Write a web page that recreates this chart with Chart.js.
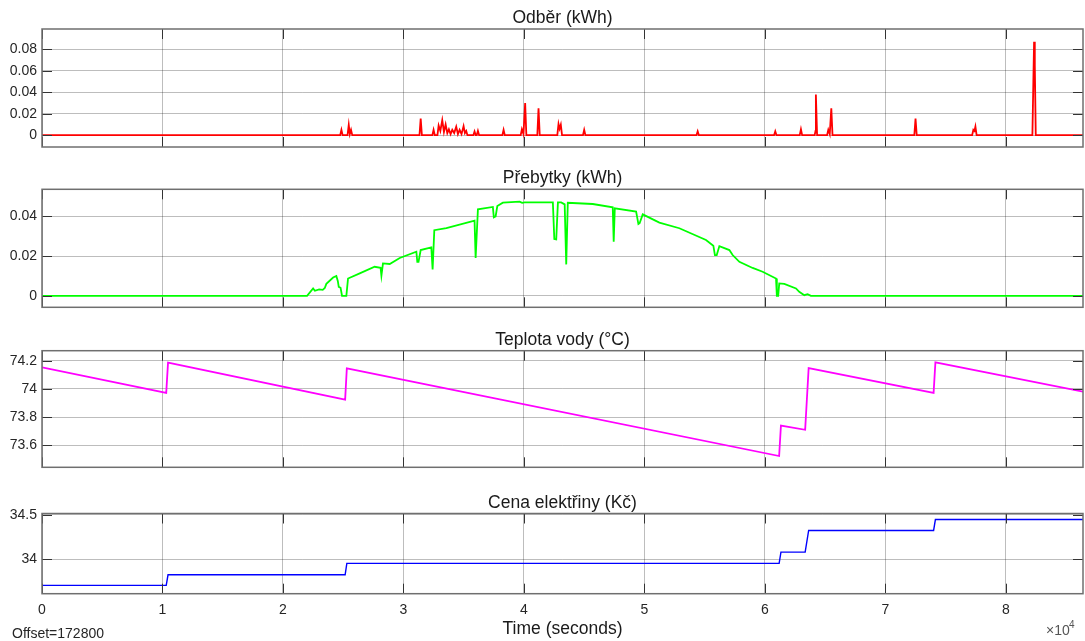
<!DOCTYPE html>
<html><head><meta charset="utf-8">
<script src="https://cdn.jsdelivr.net/npm/chart.js@4/dist/chart.umd.min.js"></script>
<style>
html,body{margin:0;padding:0;background:#fff;width:1085px;height:641px;overflow:hidden;}
canvas{position:absolute;left:0;}
</style></head><body>
<canvas id="c1" width="1085" height="155" style="top:0px"></canvas>
<canvas id="c2" width="1085" height="155" style="top:160px"></canvas>
<canvas id="c3" width="1085" height="155" style="top:320px"></canvas>
<canvas id="c4" width="1085" height="161" style="top:480px"></canvas>
<script>
// ---------- data ----------
const titles = ["Odběr (kWh)", "Přebytky (kWh)", "Teplota vody (°C)", "Cena elektřiny (Kč)"];
const xLabel = "Time (seconds)";
const offsetText = "Offset=172800";
const xTicks = [0, 10000, 20000, 30000, 40000, 50000, 60000, 70000, 80000];
const xTickLabels = ["0", "1", "2", "3", "4", "5", "6", "7", "8"];

const yTicksOdber = [0, 0.02, 0.04, 0.06, 0.08];
const yTicksPrebytky = [0, 0.02, 0.04];
const yTicksTeplota = [73.6, 73.8, 74, 74.2];
const yTicksCena = [34, 34.5];

const odberT = [0,
 24750, 24850, 24950,
 25360, 25460, 25550, 25650, 25750,
 31330, 31430, 31530,
 32400, 32500, 32600,
 32820, 32920, 33060, 33220, 33360, 33500, 33640, 33770, 33910, 34050, 34210, 34380, 34520, 34660, 34820, 34990, 35100, 35210, 35310,
 35800, 35900, 36000, 36080, 36180, 36280,
 38210, 38310, 38410,
 39730, 39830, 39960, 40100, 40200,
 41110, 41210, 41310,
 42770, 42870, 42960, 43060, 43160,
 44900, 45000, 45100,
 54320, 54420, 54520,
 60760, 60860, 60960,
 62890, 62990, 63090,
 64130, 64200, 64230, 64330,
 65160, 65260, 65380, 65510, 65610,
 72400, 72500, 72600,
 77200, 77300, 77390, 77470, 77570,
 82200, 82280, 82340, 82400, 82480,
 86400];
const odberV = [0,
 0, 0.005, 0,
 0, 0.0095, 0.001, 0.005, 0,
 0, 0.0155, 0,
 0, 0.005, 0,
 0, 0.009, 0.004, 0.014, 0.003, 0.010, 0.002, 0.0055, 0.001, 0.005, 0.002, 0.008, 0.001, 0.005, 0.001, 0.0085, 0.002, 0.004, 0,
 0, 0.0035, 0, 0, 0.004, 0,
 0, 0.005, 0,
 0, 0.0055, 0.001, 0.030, 0,
 0, 0.025, 0,
 0, 0.0105, 0.006, 0.0098, 0,
 0, 0.005, 0,
 0, 0.0037, 0,
 0, 0.0037, 0,
 0, 0.0055, 0,
 0, 0.004, 0.038, 0,
 0, 0.005, 0.001, 0.025, 0,
 0, 0.0155, 0,
 0, 0.005, 0.004, 0.008, 0,
 0, 0.05, 0.087, 0.065, 0,
 0];

const prebytkyT = [0, 22000, 22500, 22650, 23000, 23300, 23470, 23600, 24160, 24430, 24550, 24630, 24780, 24900, 25260, 25400,
 26370, 27610, 28100, 28170, 28300, 28860, 29690, 31070, 31150, 31250, 31430, 32310, 32420, 32560, 33560,
 35900, 35990, 36180, 37420, 37500, 37650, 37790, 38250, 39640, 39850, 40050, 42400, 42520, 42680, 42820,
 43090, 43380, 43510, 43640, 45710, 47370, 47450, 47540, 49310, 49500, 49600, 49860, 51240, 52900, 55110,
 55720, 55850, 56000, 56220, 57050, 57320, 57880, 58980, 59810, 60920, 60990, 61100, 61190, 61610, 62580,
 62850, 63270, 63540, 63820, 86400];
const prebytkyV = [0, 0, 0.0037, 0.0025, 0.0032, 0.003, 0.0039, 0.006, 0.0092, 0.010, 0.0075, 0.0045, 0.004, 0, 0, 0.0087,
 0.0113, 0.0146, 0.0141, 0.0101, 0.0163, 0.016, 0.019, 0.0222, 0.0171, 0.0171, 0.023, 0.0244, 0.0133, 0.033, 0.034,
 0.0378, 0.019, 0.0435, 0.0447, 0.0395, 0.0400, 0.0452, 0.0469, 0.0474, 0.0468, 0.0470, 0.047, 0.0286, 0.0284, 0.047,
 0.047, 0.046, 0.0158, 0.0468, 0.0462, 0.0445, 0.0272, 0.0440, 0.0424, 0.0361, 0.0365, 0.041, 0.0368, 0.034, 0.0281,
 0.0252, 0.0205, 0.0205, 0.025, 0.023, 0.0205, 0.0171, 0.014, 0.0121, 0.0087, 0, 0, 0.0062, 0.006, 0.0037,
 0.002, 0.0003, 0.0008, 0, 0];

const teplotaT = [0, 10310, 10460, 25160, 25300, 61180, 61330, 63340, 63630, 74000, 74150, 86400];
const teplotaV = [74.153, 73.972, 74.186, 73.924, 74.146, 73.524, 73.740, 73.710, 74.148, 73.972, 74.189, 73.980];

const cenaT = [0, 10310, 10460, 25160, 25300, 61180, 61330, 63340, 63630, 74000, 74150, 86400];
const cenaV = [33.708, 33.708, 33.827, 33.827, 33.955, 33.955, 34.082, 34.082, 34.325, 34.325, 34.448, 34.448];

// ---------- drawing ----------
const FONT = '"Liberation Sans", Arial, Helvetica, sans-serif';
const gridColor = 'rgba(0,0,0,0.26)';

const matlabPlugin = {
  id: 'matlab',
  afterDraw(chart, args, opts) {
    const ctx = chart.ctx, a = chart.chartArea, xs = chart.scales.x, ys = chart.scales.y;
    ctx.save();
    ctx.strokeStyle = '#333333';
    ctx.lineWidth = 1;
    ctx.beginPath();
    ys.ticks.forEach(t => {
      const p = Math.round(ys.getPixelForValue(t.value)) + 0.5;
      ctx.moveTo(a.left, p); ctx.lineTo(a.left + 10, p);
      ctx.moveTo(a.right - 10, p); ctx.lineTo(a.right, p);
    });
    xs.ticks.forEach(t => {
      const p = Math.round(xs.getPixelForValue(t.value)) + 0.5;
      ctx.moveTo(p, a.top); ctx.lineTo(p, a.top + 10);
      ctx.moveTo(p, a.bottom - 10); ctx.lineTo(p, a.bottom);
    });
    ctx.stroke();
    ctx.strokeStyle = '#6f6f6f';
    ctx.lineWidth = 1.5;
    ctx.strokeRect(a.left, a.top, a.right - a.left, a.bottom - a.top);
    ctx.fillStyle = '#1a1a1a';
    ctx.font = '17.5px ' + FONT;
    ctx.textAlign = 'center';
    ctx.textBaseline = 'alphabetic';
    ctx.fillText(opts.title, (a.left + a.right) / 2, a.top - 6);
    if (opts.bottom) {
      ctx.font = '17.5px ' + FONT;
      ctx.fillText(xLabel, (a.left + a.right) / 2, a.bottom + 40);
      ctx.textAlign = 'left';
      ctx.fillStyle = '#262626';
      ctx.font = '14px ' + FONT;
      ctx.fillText(offsetText, 12, a.bottom + 44);
      ctx.fillStyle = '#555555';
      ctx.fillText('\u00d710', 1046, a.bottom + 41);
      ctx.font = '10px ' + FONT;
      ctx.fillText('4', 1069, a.bottom + 34);
    }
    ctx.restore();
  }
};

function fmt(v) { return String(Number(v.toFixed(4))); }

function makeChart(id, padTop, xH, T, V, color, lw, yMin, yMax, yTicks, title, bottom) {
  return new Chart(document.getElementById(id), {
    type: 'line',
    data: { datasets: [{
      data: T.map((t, i) => ({ x: t, y: V[i] })),
      borderColor: color, borderWidth: lw, pointRadius: 0, tension: 0, fill: false
    }]},
    options: {
      responsive: false, animation: false, events: [],
      layout: { padding: { top: padTop, right: 2, bottom: 0, left: 0 } },
      plugins: { legend: { display: false }, tooltip: { enabled: false },
                 matlab: { title: title, bottom: bottom } },
      scales: {
        x: {
          type: 'linear', min: 0, max: 86400,
          afterBuildTicks: s => { s.ticks = xTicks.map(v => ({ value: v })); },
          grid: { color: gridColor, drawTicks: false, lineWidth: 1 },
          border: { display: false },
          ticks: { display: bottom, padding: 8, color: '#262626', maxRotation: 0, autoSkip: false,
                   font: { family: FONT, size: 14 },
                   callback: v => xTickLabels[xTicks.indexOf(v)] },
          afterFit: s => { s.height = xH; s.paddingLeft = 0; s.paddingRight = 0; }
        },
        y: {
          type: 'linear', min: yMin, max: yMax,
          afterBuildTicks: s => { s.ticks = yTicks.map(v => ({ value: v })); },
          grid: { color: gridColor, drawTicks: false, lineWidth: 1 },
          border: { display: false },
          ticks: { padding: 5, color: '#262626', font: { family: FONT, size: 14 }, callback: v => fmt(v) },
          afterFit: s => { s.width = 42; s.paddingTop = 0; s.paddingBottom = 0; }
        }
      }
    },
    plugins: [matlabPlugin]
  });
}

makeChart('c1', 29, 8, odberT, odberV, '#ff0000', 1.8, -0.011, 0.099, yTicksOdber, titles[0], false);
makeChart('c2', 29.3, 7.7, prebytkyT, prebytkyV, '#00ff00', 1.8, -0.0058, 0.0536, yTicksPrebytky, titles[1], false);
makeChart('c3', 30.7, 7.7, teplotaT, teplotaV, '#ff00ff', 1.8, 73.444, 74.271, yTicksTeplota, titles[2], false);
makeChart('c4', 33.5, 47.3, cenaT, cenaV, '#0000ff', 1.4, 33.614, 34.516, yTicksCena, titles[3], true);
</script>
</body></html>
